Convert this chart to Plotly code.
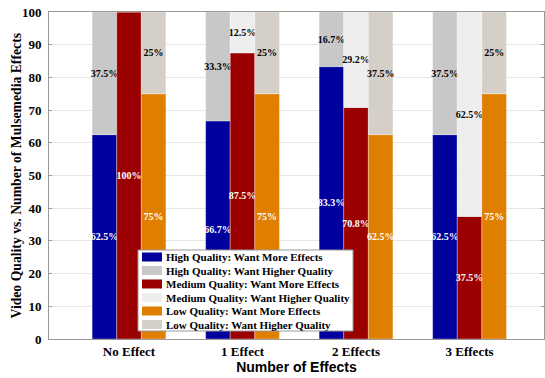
import plotly.graph_objects as go

categories = ["No Effect", "1 Effect", "2 Effects", "3 Effects"]
high_more = [62.5, 66.7, 83.3, 62.5]
high_quality = [37.5, 33.3, 16.7, 37.5]
med_more = [100, 87.5, 70.8, 37.5]
med_quality = [0, 12.5, 29.2, 62.5]
low_more = [75, 75, 62.5, 75]
low_quality = [25, 25, 37.5, 25]

serif = "Liberation Serif"

def lbl(vals):
    return [("" if v == 0 else f"{v:g}%") for v in vals]

fig = go.Figure()
specs = [
    ("High Quality: Want More Effects", high_more, None, "#00009C", "white", "h"),
    ("High Quality: Want Higher Quality", high_quality, high_more, "#C8C8C8", "black", "h"),
    ("Medium Quality: Want More Effects", med_more, None, "#9A0000", "white", "m"),
    ("Medium Quality: Want Higher Quality", med_quality, med_more, "#EEEEEE", "black", "m"),
    ("Low Quality: Want More Effects", low_more, None, "#E07E00", "white", "l"),
    ("Low Quality: Want Higher Quality", low_quality, low_more, "#D4D0C8", "black", "l"),
]
for name, vals, base, color, tcolor, grp in specs:
    fig.add_trace(go.Bar(
        name=name, x=categories, y=vals, base=base, offsetgroup=grp,
        marker=dict(color=color, line=dict(color="rgba(255,255,255,0.4)", width=0.8)),
        text=lbl(vals), textposition="inside", insidetextanchor="middle",
        constraintext="none", textangle=0, showlegend=False,
        textfont=dict(family=serif, size=10, color=tcolor, weight="bold"),
    ))

# Manual compact legend (paper coordinates of the plot area, screen pixels)
PX0, PX1, PY0, PY1 = 49, 544, 12, 339
def px(x):
    return (x - PX0) / (PX1 - PX0)
def py(y):
    return (PY1 - y) / (PY1 - PY0)

shapes = [dict(type="rect", xref="paper", yref="paper", layer="above",
               x0=px(138), x1=px(353), y0=py(331), y1=py(250),
               fillcolor="white", line=dict(color="#999999", width=1))]
annotations = []
for i, (name, vals, base, color, tcolor, grp) in enumerate(specs):
    cy = 257 + 13.5 * i
    shapes.append(dict(type="rect", xref="paper", yref="paper", layer="above",
                       x0=px(142), x1=px(162), y0=py(cy + 4.5), y1=py(cy - 4.5),
                       fillcolor=color, line=dict(width=0)))
    annotations.append(dict(text=name, xref="paper", yref="paper",
                            x=px(164), y=py(cy), xanchor="left", yanchor="middle",
                            showarrow=False,
                            font=dict(family=serif, size=11, color="black", weight="bold")))

# y-axis title as rotated annotation
annotations.append(dict(text="Video Quality vs. Number of Mulsemedia Effects",
                        xref="paper", yref="paper", x=px(16), y=0.5,
                        xanchor="center", yanchor="middle", textangle=-90,
                        showarrow=False,
                        font=dict(family=serif, size=13.7, color="black", weight="bold")))

fig.update_layout(
    width=545, height=378,
    margin=dict(l=49, r=1, t=12, b=39),
    barmode="group", bargap=0.35, bargroupgap=0,
    plot_bgcolor="white", paper_bgcolor="white",
    showlegend=False,
    shapes=shapes, annotations=annotations,
    xaxis=dict(
        range=[-0.705, 3.656], automargin=False,
        showline=True, linecolor="#999999", mirror=True,
        tickfont=dict(family=serif, size=13, color="black", weight="bold"),
        title=dict(text="Number of Effects", standoff=2,
                   font=dict(family="Liberation Sans", size=14, color="black", weight="bold")),
        ticks="",
    ),
    yaxis=dict(
        range=[0, 100], tickvals=list(range(0, 101, 10)), automargin=False,
        showline=True, linecolor="#999999", mirror="ticks",
        ticks="inside", ticklen=3, tickcolor="#999999", ticklabelstandoff=4,
        ticklabeloverflow="allow",
        showgrid=True, gridcolor="#E6E6E6", zeroline=False,
        tickfont=dict(family=serif, size=13, color="black", weight="bold"),
    ),
)
fig.write_html("out.html", config={"displayModeBar": False},
               post_script="document.body.style.margin='0';")
